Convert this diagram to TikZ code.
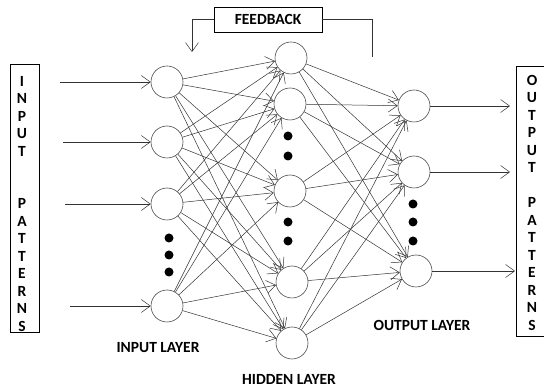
\documentclass[tikz,border=0pt]{standalone}
\usepackage{fontspec}
\setmainfont{Carlito}
\usetikzlibrary{positioning,arrows.meta}

\begin{document}
\begin{tikzpicture}[x=1pt, y=-1pt,
        neuron/.style={draw=black!70, circle, minimum size=32pt, inner sep=0pt, line width=0.6pt},
        dot/.style={fill=black, circle, minimum size=9pt, inner sep=0pt},
        link/.style={draw=black!80, line width=0.5pt, -{Straight Barb[length=9pt,width=13pt]}},
        letters/.style={font=\bfseries\fontsize{15.5}{17.5}\selectfont, align=center, inner sep=0pt},
        layername/.style={font=\bfseries\fontsize{15.5}{17}\selectfont, inner sep=0pt}
    ]
        \useasboundingbox (0,0) rectangle (544,387);

        % pattern boxes
        \node [draw, minimum width=29pt, minimum height=268pt, inner sep=0pt] (inbox) at (24.5,198) {};
        \node [letters, anchor=north] (intext) at (22,76) {I\\N\\P\\U\\T\\[35pt]P\\A\\T\\T\\E\\R\\N\\S};
        \node [draw, minimum width=34pt, minimum height=270pt, inner sep=0pt] (outbox) at (533,201) {};
        \node [letters, anchor=north] (outtext) at (532,75) {O\\U\\T\\P\\U\\T\\[17.5pt]P\\A\\T\\T\\E\\R\\N\\S};

        % input layer
        \node [neuron] (in1) at (167,82) {};
        \node [neuron] (in2) at (167,142) {};
        \node [neuron] (in3) at (167,204) {};
        \node [neuron] (in4) at (167,306) {};
        \node [dot] (idot1) at (169,238) {};
        \node [dot] (idot2) at (169,255) {};
        \node [dot] (idot3) at (169,272) {};

        % hidden layer
        \node [neuron] (h1) at (291,58) {};
        \node [neuron] (h2) at (290,104) {};
        \node [neuron] (h3) at (290,191) {};
        \node [neuron] (h4) at (292,282) {};
        \node [neuron] (h5) at (292,343) {};
        \node [dot] (hdot1) at (288,136) {};
        \node [dot] (hdot2) at (288,156) {};
        \node [dot] (hdot3) at (288,222) {};
        \node [dot] (hdot4) at (288,241) {};

        % output layer
        \node [neuron] (o1) at (414,106) {};
        \node [neuron] (o2) at (414,172) {};
        \node [neuron] (o3) at (416,271) {};
        \node [dot] (odot1) at (413,204) {};
        \node [dot] (odot2) at (413,222) {};
        \node [dot] (odot3) at (413,241) {};

        % feedback
        \node [draw, minimum width=108pt, minimum height=25pt, inner sep=0pt, layername] (fb) at (268,19.5) {FEEDBACK};
        \coordinate (fbR) at (372,57);
        \coordinate (fbL) at (192,52);
        \draw [black!80] (fb.east) -| (fbR);
        \draw [link] (fb.west) -| (fbL);

        % layer names
        \node [layername] (inname) at (158,348) {INPUT LAYER};
        \node [layername] (hidname) at (289,379) {HIDDEN LAYER};
        \node [layername] (outname) at (422,325) {OUTPUT LAYER};

        % patterns in and out
        \coordinate (src1) at (60,82);
        \coordinate (src2) at (63,142);
        \coordinate (src3) at (65,204);
        \coordinate (src4) at (70,306);
        \coordinate (dst1) at (510,106);
        \coordinate (dst2) at (510,172);
        \coordinate (dst3) at (515,271);
        \foreach \i in {1,...,4}
            \draw [link] (src\i) -- (in\i);
        \foreach \o in {1,2,3}
            \draw [link] (o\o) -- (dst\o);

        % full connections
        \foreach \i in {1,...,4}
            \foreach \h in {1,...,5}
                \draw [link] (in\i) -- (h\h);
        \foreach \h in {1,...,5}
            \foreach \o in {1,2,3}
                \draw [link] (h\h) -- (o\o);
    \end{tikzpicture}
\end{document}
